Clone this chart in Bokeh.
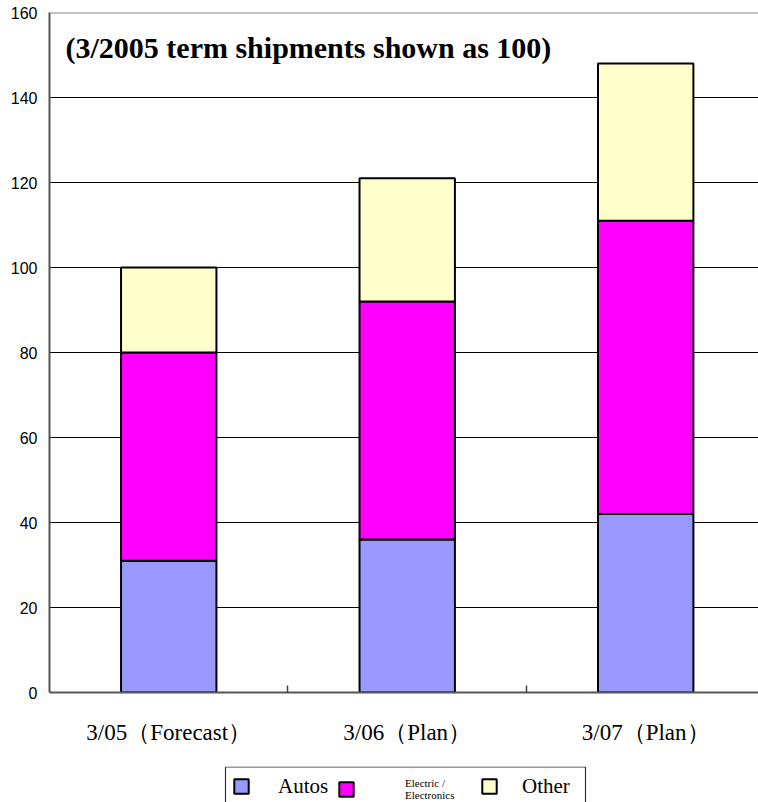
from bokeh.plotting import figure
from bokeh.layouts import column
from bokeh.models import (Range1d, FixedTicker, Legend, LegendItem, Label,
                          BoxAnnotation, Span, ColumnDataSource)
from bokeh.embed import file_html
from bokeh.resources import INLINE

# ---- data ----
periods = ["3/05（Forecast）", "3/06（Plan）", "3/07（Plan）"]
positions = [0, 1, 2]
autos = [31, 36, 42]
electric = [49, 56, 69]
other = [20, 29, 37]
series_keys = ["autos", "electric", "other"]
series_names = ["Autos", "Electric /\nElectronics", "Other"]
colors = ["#9999FF", "#FF00FF", "#FFFFCC"]
y_ticks = [0, 20, 40, 60, 80, 100, 120, 140, 160]
title_text = "(3/2005 term shipments shown as 100)"

SERIF = "Liberation Serif"
SANS = "Liberation Sans"

source = ColumnDataSource(dict(x=positions, autos=autos, electric=electric, other=other))

# ---- main chart ----
p = figure(width=758, height=766, output_backend="svg", toolbar_location=None,
           x_range=Range1d(-0.5, 2.473), y_range=Range1d(y_ticks[0], y_ticks[-1]),
           min_border_left=49, min_border_right=0, min_border_top=12, min_border_bottom=74)
p.outline_line_color = None
p.background_fill_color = "white"
p.border_fill_color = "white"

rs = p.vbar_stack(series_keys, x="x", width=0.4, color=colors, line_color="black",
                  line_width=2, source=source)

p.xgrid.visible = False
p.ygrid.ticker = FixedTicker(ticks=y_ticks)
p.ygrid.grid_line_color = "black"
p.ygrid.grid_line_width = 1

p.yaxis.ticker = FixedTicker(ticks=y_ticks, minor_ticks=[])
p.yaxis.major_tick_out = 0
p.yaxis.major_tick_in = 0
p.yaxis.minor_tick_out = 0
p.yaxis.minor_tick_in = 0
p.yaxis.axis_line_color = "#555555"
p.yaxis.axis_line_width = 2
p.yaxis.major_label_text_font = SANS
p.yaxis.major_label_text_font_size = "16px"
p.yaxis.major_label_text_color = "black"
p.yaxis.major_label_standoff = 12

p.xaxis.ticker = FixedTicker(ticks=positions,
                             minor_ticks=[v + 0.5 for v in positions[:-1]])
p.xaxis.major_label_overrides = dict(zip(positions, periods))
p.xaxis.major_tick_out = 0
p.xaxis.major_tick_in = 0
p.xaxis.minor_tick_in = 7
p.xaxis.minor_tick_out = 0
p.xaxis.minor_tick_line_color = "#444444"
p.xaxis.minor_tick_line_width = 1.5
p.xaxis.axis_line_color = "#555555"
p.xaxis.axis_line_width = 2
p.xaxis.major_label_text_font = SERIF
p.xaxis.major_label_text_font_size = "23px"
p.xaxis.major_label_text_color = "black"
p.xaxis.major_label_standoff = 27

# top border line
p.add_layout(Span(location=y_ticks[-1], dimension="width", line_color="#888888", line_width=2))

# title inside the plot
p.add_layout(Label(x=16, y=645, x_units="screen", y_units="screen", text=title_text,
                   text_font=SERIF, text_font_style="bold", text_font_size="30px",
                   text_baseline="alphabetic", text_color="black"))

# ---- legend strip (frame is aligned with the main chart's frame) ----
lg_fig = figure(width=758, height=36, output_backend="svg", toolbar_location=None,
                x_axis_type=None, y_axis_type=None,
                x_range=Range1d(0, 1), y_range=Range1d(0, 1),
                min_border_left=0, min_border_right=0, min_border_top=0, min_border_bottom=0)
lg_fig.outline_line_color = None
lg_fig.grid.visible = False

nan = float("nan")
dummies = [lg_fig.vbar(x=[nan], top=[nan], width=0.4, fill_color=c, line_color="black",
                       line_width=2)
           for c in colors]

lg_fig.add_layout(BoxAnnotation(left=176, right=536, top=35.5, bottom=-5,
                                left_units="screen", right_units="screen",
                                top_units="screen", bottom_units="screen",
                                fill_alpha=0, fill_color=None, line_color="#333333",
                                line_alpha=1, line_width=1.2))

leg_specs = [
    (0, (183, 3.5), 28, "21px"),
    (1, (288, 1), 50, "11px"),
    (2, (431, 3.5), 24, "21px"),
]
for idx, loc, standoff, fsize in leg_specs:
    lg = Legend(items=[LegendItem(label=series_names[idx], renderers=[dummies[idx]])],
                location=loc, orientation="horizontal", border_line_color=None,
                background_fill_alpha=0, padding=0, margin=0,
                glyph_width=18, glyph_height=18, label_standoff=standoff,
                label_text_font=SERIF, label_text_font_size=fsize,
                label_text_color="black", label_text_line_height=1.3)
    lg_fig.add_layout(lg)

layout = column(p, lg_fig, spacing=0)

open("out.html", "w").write(file_html(layout, INLINE))
